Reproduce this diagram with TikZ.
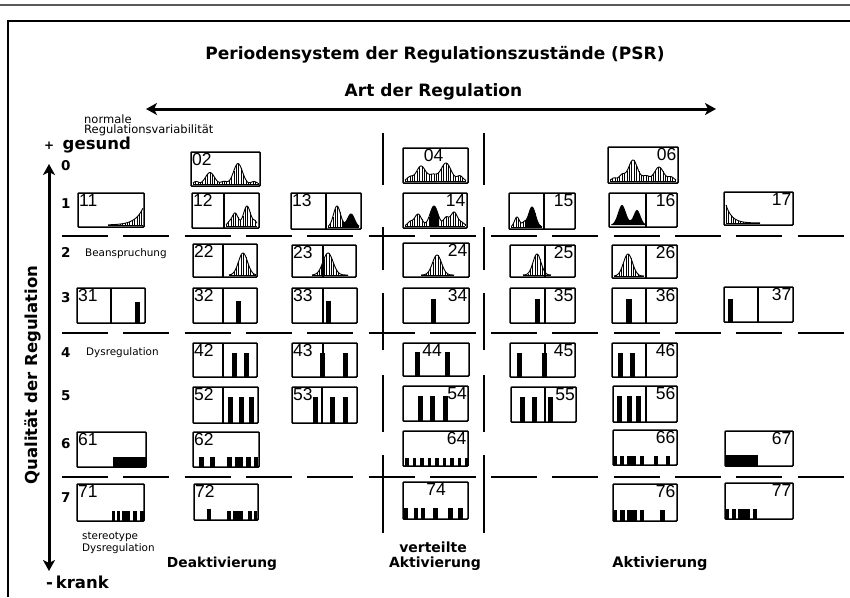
\documentclass[tikz,border=0pt]{standalone}
\usepackage{fontspec}
\setmainfont{Liberation Sans}
\newfontfamily\dvs{DejaVu Sans}
\usetikzlibrary{arrows.meta}
\tikzset{
  boxline/.style={line width=1.5pt, rounded corners=0.8pt},
  divline/.style={line width=1.1pt},
  curveline/.style={line width=0.9pt},
  hatchline/.style={line width=0.6pt},
  dashseg/.style={line width=1.8pt},
  numlabel/.style={font=\fontsize{17.5}{18}\selectfont, inner sep=0pt},
  rowlabel/.style={font=\dvs\bfseries\fontsize{13.5}{14}\selectfont, inner sep=0pt, anchor=base west},
  smalltext/.style={font=\dvs\fontsize{10.4}{11}\selectfont, inner sep=0pt, anchor=base west},
  bigbold/.style={font=\dvs\bfseries\fontsize{17}{19}\selectfont, inner sep=0pt},
  axisarrow/.style={line width=3pt, {Stealth[length=11pt,width=12pt,inset=3pt]}-{Stealth[length=11pt,width=12pt,inset=3pt]}},
}
\newcommand{\cellframe}[4]{\draw[boxline] (#1,#2) rectangle (#3,#4);}
\newcommand{\celldiv}[3]{\draw[divline] (#1,#2) -- (#1,#3);}
\newcommand{\hatchhist}[4]{%
  \pgfmathtruncatemacro\nhatch{(#2-#1)/2.4}%
  \foreach \i in {0,...,\nhatch}{\pgfmathsetmacro\x{#1+2.4*\i}\draw[hatchline] (\x,#3) -- (\x,{#3-(#4)});}%
  \draw[curveline] plot[domain=#1:#2,samples=70,smooth] (\x,{#3-(#4)});%
  \draw[curveline] (#1,#3) -- (#2,#3);}
\newcommand{\blackhist}[4]{\fill plot[domain=#1:#2,samples=50,smooth] (\x,{#3-(#4)}) -- (#2,#3) -- (#1,#3) -- cycle;}
\newcommand{\barr}[4]{\fill (#1,#3) rectangle (#2,#4);}
\begin{document}
\begin{tikzpicture}[x=1pt,y=-1pt,
  declare function={G(\qa,\qb,\qc,\qd)=\qd*exp(max(-0.5*((\qa-\qb)/\qc)*((\qa-\qb)/\qc),-15));}]
\useasboundingbox (0,0) rectangle (850,597);
\fill[white] (0,0) rectangle (850,597);
% frame
\draw[line width=2pt, black!65] (0,5) -- (850,5);
\draw[line width=2.2pt] (8,597) -- (8,21) -- (850,21);
% titles
\node[bigbold, anchor=base] (title) at (435,59.5) {Periodensystem der Regulationszustände (PSR)};
\node[bigbold, anchor=base] (art) at (433.5,96.5) {Art der Regulation};
\coordinate (hl) at (146,109);
\coordinate (hr) at (716,109);
\draw[axisarrow] (hl) -- (hr);
\coordinate (vt) at (49,164);
\coordinate (vb) at (49,571);
\draw[axisarrow] (vt) -- (vb);
\node[font=\dvs\fontsize{11.5}{12}\selectfont, inner sep=0pt, anchor=base west] (normale) at (84,123) {normale};
\node[font=\dvs\fontsize{11.5}{12}\selectfont, inner sep=0pt, anchor=base west] (regvar) at (84,133) {Regulationsvariabilität};
\node[font=\dvs\bfseries\fontsize{16.5}{18}\selectfont, inner sep=0pt, anchor=base west] (gesund) at (44,149) {{\fontsize{12}{12}\selectfont+}\, gesund};
\node[font=\dvs\bfseries\fontsize{16.5}{18}\selectfont, inner sep=0pt, anchor=base west] (krank) at (46,588) {-\,krank};
\node[font=\dvs\bfseries\fontsize{16.5}{18}\selectfont, inner sep=0pt, rotate=90] (qual) at (33,375) {Qualität der Regulation};
% row labels
\node[rowlabel] (r0) at (61,170) {0};
\node[rowlabel] (r1) at (61,208) {1};
\node[rowlabel] (r2) at (61,257) {2};
\node[rowlabel] (r3) at (61,302) {3};
\node[rowlabel] (r4) at (61,357) {4};
\node[rowlabel] (r5) at (61,400) {5};
\node[rowlabel] (r6) at (61,448) {6};
\node[rowlabel] (r7) at (61,502) {7};
\node[smalltext] (bean) at (85,256.5) {Beanspruchung};
\node[smalltext] (dysr) at (86,355) {Dysregulation};
\node[smalltext] (stereo) at (82,539) {stereotype};
\node[smalltext] (dysr2) at (82,551) {Dysregulation};
\node[font=\dvs\bfseries\fontsize{13.8}{15}\selectfont, inner sep=0pt, anchor=base] (deakt) at (222,567) {Deaktivierung};
\node[font=\dvs\bfseries\fontsize{14}{15}\selectfont, inner sep=0pt, anchor=base] (vert) at (433,552.5) {verteilte};
\node[font=\dvs\bfseries\fontsize{14}{15}\selectfont, inner sep=0pt, anchor=base] (vakt) at (435,567) {Aktivierung};
\node[font=\dvs\bfseries\fontsize{14.5}{15}\selectfont, inner sep=0pt, anchor=base] (akt) at (660,567.5) {Aktivierung};
% dashed grid lines
\foreach \xv in {383,484}{\foreach \a/\b in {133/185,227/270,293/350,375/432,455/533}{\draw[dashseg] (\xv,\a) -- (\xv,\b);}}
\foreach \yh in {236,333,477}{\foreach \k in {0,...,12}{\draw[dashseg] ({62+61.3*\k},\yh) -- ({108+61.3*\k},\yh);}}
% ---------- row 0
\cellframe{191}{152}{260}{186}
\hatchhist{193}{258}{184.5}{G(\x,196,2.5,3)+G(\x,210,4.5,12)+G(\x,224,3,3)+G(\x,238,4.5,21)+G(\x,254,3,3)}
\node[numlabel, anchor=north west] (n02) at (192,153.5) {02};
\cellframe{403}{148}{468}{183}
\hatchhist{405}{466}{181}{G(\x,410,3,4)+G(\x,421,4.5,15)+G(\x,433,4,6)+G(\x,446,5,18)+G(\x,460,3,5)}
\node[numlabel, anchor=north] (n04) at (433.5,149.5) {04};
\cellframe{608}{147}{678}{183}
\hatchhist{610}{676}{181}{G(\x,614,2.5,3)+G(\x,622,3,6)+G(\x,633,4.5,21)+G(\x,646,3.5,5)+G(\x,659,4.5,14)+G(\x,671,3,4)}
\node[numlabel, anchor=north east] (n06) at (676.5,148.5) {06};
% ---------- row 1
\cellframe{78}{193}{144}{227}
\hatchhist{108}{143}{225}{17*exp(max((\x-143)/8,-15))}
\node[numlabel, anchor=north west] (n11) at (79,194.5) {11};
\cellframe{192}{193}{259}{228}\celldiv{224}{193}{228}
\hatchhist{226}{257}{226}{G(\x,229,2,3)+G(\x,235,3,13)+G(\x,247,3.5,20)+G(\x,255,2,4)}
\node[numlabel, anchor=north west] (n12) at (193,194.5) {12};
\cellframe{291}{193}{361}{229}\celldiv{326}{193}{229}
\blackhist{343}{359}{227}{G(\x,337,3.5,21)+G(\x,351,3.5,13)}
\hatchhist{328}{359}{227}{G(\x,337,3.5,21)+G(\x,351,3.5,13)}
\node[numlabel, anchor=north west] (n13) at (292,194.5) {13};
\cellframe{403}{193}{467}{228}
\blackhist{430}{439}{226}{G(\x,410,2.5,4)+G(\x,418,3.5,12)+G(\x,434,4,20)+G(\x,446,2.5,8)+G(\x,454,3.5,14)+G(\x,462,2.5,3)}
\hatchhist{405}{465}{226}{G(\x,410,2.5,4)+G(\x,418,3.5,12)+G(\x,434,4,20)+G(\x,446,2.5,8)+G(\x,454,3.5,14)+G(\x,462,2.5,3)}
\node[numlabel, anchor=north east] (n14) at (465.5,194.5) {14};
\cellframe{509}{193}{575}{229}\celldiv{544}{193}{229}
\blackhist{526}{542}{227}{G(\x,517,2.5,10)+G(\x,524,2,4)+G(\x,532,3.5,20)}
\hatchhist{511}{542}{227}{G(\x,517,2.5,10)+G(\x,524,2,4)+G(\x,532,3.5,20)}
\node[numlabel, anchor=north east] (n15) at (573.5,194.5) {15};
\cellframe{609}{193}{677}{227}\celldiv{646}{193}{227}
\blackhist{611}{645}{225}{G(\x,622,4,20)+G(\x,637,3.5,15)}
\node[numlabel, anchor=north east] (n16) at (675.5,194.5) {16};
\cellframe{724}{192}{793}{225}
\hatchhist{726}{760}{223}{18*exp(max(-(\x-726)/6,-15))}
\node[numlabel, anchor=north east] (n17) at (791.5,193.5) {17};
% ---------- row 2
\cellframe{193}{244}{257}{277}\celldiv{223}{244}{277}
\hatchhist{229}{256}{275}{G(\x,243,4.5,22)}
\node[numlabel, anchor=north west] (n22) at (194,245.5) {22};
\cellframe{292}{245}{356}{277}\celldiv{323}{245}{277}
\hatchhist{312}{348}{275}{G(\x,328,5,22)}
\node[numlabel, anchor=north west] (n23) at (293,246.5) {23};
\cellframe{403}{243}{469}{277}
\hatchhist{421}{454}{275}{G(\x,437,4.5,20)}
\node[numlabel, anchor=north east] (n24) at (467.5,244.5) {24};
\cellframe{510}{245}{575}{277}\celldiv{545}{245}{277}
\hatchhist{523}{551}{275}{G(\x,537,4,21)}
\node[numlabel, anchor=north east] (n25) at (573.5,246.5) {25};
\cellframe{612}{245}{677}{278}\celldiv{646}{245}{278}
\hatchhist{614}{644}{276}{G(\x,628,4.5,22)}
\node[numlabel, anchor=north east] (n26) at (675.5,246.5) {26};
% ---------- row 3
\cellframe{77}{288}{145}{323}\celldiv{111}{288}{323}\barr{135}{139.5}{302}{323}
\node[numlabel, anchor=north west] (n31) at (78,289.5) {31};
\cellframe{193}{288}{257}{323}\celldiv{223}{288}{323}\barr{236}{241}{301}{323}
\node[numlabel, anchor=north west] (n32) at (194,289.5) {32};
\cellframe{292}{288}{357}{323}\celldiv{323}{288}{323}\barr{326}{331}{301}{323}
\node[numlabel, anchor=north west] (n33) at (293,289.5) {33};
\cellframe{403}{288}{469}{323}\barr{431}{436}{299}{323}
\node[numlabel, anchor=north east] (n34) at (467.5,289.5) {34};
\cellframe{510}{288}{575}{323}\celldiv{545}{288}{323}\barr{535}{540}{299}{323}
\node[numlabel, anchor=north east] (n35) at (573.5,289.5) {35};
\cellframe{612}{288}{677}{323}\celldiv{646}{288}{323}\barr{626}{631.5}{299}{323}
\node[numlabel, anchor=north east] (n36) at (675.5,289.5) {36};
\cellframe{724}{287}{793}{322}\celldiv{758}{287}{322}\barr{728}{733}{299}{322}
\node[numlabel, anchor=north east] (n37) at (791.5,288.5) {37};
% ---------- row 4
\cellframe{193}{343}{257}{377}\celldiv{223}{343}{377}\barr{232}{236.5}{353}{377}\barr{244}{248.5}{353}{377}
\node[numlabel, anchor=north west] (n42) at (194,344.5) {42};
\cellframe{292}{343}{357}{377}\celldiv{323}{343}{377}\barr{320}{325}{353}{377}\barr{343}{348}{353}{377}
\node[numlabel, anchor=north west] (n43) at (293,344.5) {43};
\cellframe{403}{343}{469}{376}\barr{415}{420}{352}{376}\barr{445}{450}{352}{376}
\node[numlabel, anchor=north] (n44) at (432,344) {44};
\cellframe{510}{343}{575}{377}\celldiv{545}{343}{377}\barr{517}{522}{353}{377}\barr{542}{547}{353}{377}
\node[numlabel, anchor=north east] (n45) at (573.5,344.5) {45};
\cellframe{612}{343}{677}{377}\celldiv{646}{343}{377}\barr{618}{623}{353}{377}\barr{630}{635}{353}{377}
\node[numlabel, anchor=north east] (n46) at (675.5,344.5) {46};
% ---------- row 5
\cellframe{193}{387}{258}{423}\celldiv{223}{387}{423}\barr{228}{233}{397}{423}\barr{239}{244}{397}{423}\barr{249}{254}{397}{423}
\node[numlabel, anchor=north west] (n52) at (194,388.5) {52};
\cellframe{292}{387}{357}{423}\celldiv{322}{387}{423}\barr{313}{318}{397}{423}\barr{330}{335}{397}{423}\barr{343}{348}{397}{423}
\node[numlabel, anchor=north west] (n53) at (293,388.5) {53};
\cellframe{403}{386}{468}{421}\barr{418}{423}{396}{421}\barr{430}{435}{396}{421}\barr{443}{448}{396}{421}
\node[numlabel, anchor=north east] (n54) at (467,387.5) {54};
\cellframe{511}{387}{576}{422}\celldiv{545}{387}{422}\barr{520}{525}{397}{422}\barr{532}{537}{397}{422}\barr{548}{553}{397}{422}
\node[numlabel, anchor=north east] (n55) at (575,388.5) {55};
\cellframe{613}{386}{677}{422}\celldiv{646}{386}{422}\barr{617}{622}{396}{422}\barr{627}{632}{396}{422}\barr{636}{641}{396}{422}
\node[numlabel, anchor=north east] (n56) at (675.5,387.5) {56};
% ---------- row 6
\cellframe{77}{432}{146}{467}\barr{113}{146}{457}{467}
\node[numlabel, anchor=north west] (n61) at (78,433.5) {61};
\cellframe{193}{432}{259}{467}
\foreach \a/\b in {199/203.5,210/214.5,227/231.5,235/243,246/250.5,254/258}{\barr{\a}{\b}{457}{467}}
\node[numlabel, anchor=north west] (n62) at (194,433.5) {62};
\cellframe{403}{431}{468}{466}
\foreach \k in {0,...,8}{\barr{405+7.5*\k}{408.5+7.5*\k}{458}{466}}
\node[numlabel, anchor=north east] (n64) at (466.5,432.5) {64};
\cellframe{613}{430}{677}{465}
\foreach \a/\b in {613/617,620/624,627/636,640/644,653.5/657.5,666/670}{\barr{\a}{\b}{456}{465}}
\node[numlabel, anchor=north east] (n66) at (675.5,431.5) {66};
\cellframe{725}{431}{793}{466}\barr{725}{758}{455}{466}
\node[numlabel, anchor=north east] (n67) at (791.5,432.5) {67};
% ---------- row 7
\cellframe{77}{484}{144}{521}
\foreach \a/\b in {112/115,117/120,122/130,132.5/136.5,140/144}{\barr{\a}{\b}{511}{521}}
\node[numlabel, anchor=north west] (n71) at (78,485.5) {71};
\cellframe{194}{484}{258}{520}
\barr{207}{211}{509}{520}
\foreach \a/\b in {227/230.5,233/243,248/251.5,253.5/257}{\barr{\a}{\b}{511}{520}}
\node[numlabel, anchor=north west] (n72) at (195,485.5) {72};
\cellframe{403}{482}{468}{519}
\foreach \a/\b in {404/408,413.5/418,420.5/425,433/437.5,448/452.5,458/463}{\barr{\a}{\b}{508}{519}}
\node[numlabel, anchor=north] (n74) at (436,483) {74};
\cellframe{613}{484}{677}{521}
\foreach \a/\b in {613/617,620/625,627/637,640/643.5,660/664.5}{\barr{\a}{\b}{510}{521}}
\node[numlabel, anchor=north east] (n76) at (675.5,485.5) {76};
\cellframe{725}{483}{793}{519}
\foreach \a/\b in {725/728.5,732/735.5,738/750,753/757}{\barr{\a}{\b}{509}{519}}
\node[numlabel, anchor=north east] (n77) at (791.5,484) {77};
\end{tikzpicture}
\end{document}
